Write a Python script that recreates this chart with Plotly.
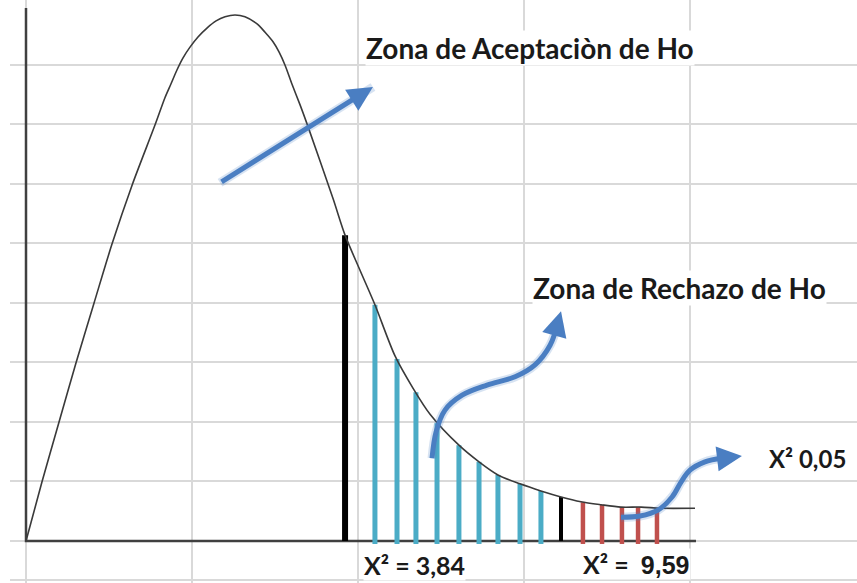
import plotly.graph_objects as go

# ---- data (grid units: 1 x-unit = one column, 1 y-unit = one row) ----
curve_x = [0.000, 0.096, 0.199, 0.301, 0.410, 0.518, 0.639, 0.777, 0.837, 0.873, 0.910, 0.946,
           0.988, 1.036, 1.090, 1.145, 1.199, 1.259, 1.319, 1.392, 1.440, 1.488, 1.524, 1.560,
           1.602, 1.651, 1.693, 1.849, 1.922, 2.012, 2.102, 2.223, 2.331,
           2.434, 2.608, 2.729, 2.843, 2.976, 3.102, 3.223, 3.343, 3.464, 3.584, 3.705, 3.825, 4.030]
curve_y = [0.00, 0.99, 2.00, 2.99, 4.00, 4.99, 5.98, 6.99, 7.45, 7.68, 7.92, 8.12,
           8.30, 8.47, 8.62, 8.74, 8.81, 8.84, 8.81, 8.69, 8.55, 8.39, 8.22, 8.00,
           7.68, 7.33, 7.01, 5.76, 5.14, 4.55, 3.97, 3.11, 2.57,
           2.13, 1.61, 1.33, 1.11, 0.96, 0.84, 0.74, 0.66, 0.61, 0.57, 0.57, 0.55, 0.55]

accept_hatch_x = [2.102, 2.235, 2.349, 2.476, 2.608, 2.729, 2.843, 2.976, 3.102]
accept_hatch_top = [3.97, 3.06, 2.50, 1.98, 1.61, 1.33, 1.11, 0.96, 0.84]
reject_hatch_x = [3.355, 3.470, 3.590, 3.687, 3.801]
reject_hatch_top = [0.65, 0.61, 0.57, 0.57, 0.55]
hatch_bottom = -0.05

crit_1_x, crit_1_top = 1.922, 5.14
crit_2_x, crit_2_top = 3.223, 0.74

x_axis_end = 4.036
y_axis_top = 8.958

arrow1_from = (1.169, 6.02)
arrow1_to = (2.090, 7.63)
arrow2_x = [2.446, 2.470, 2.524, 2.627, 2.777, 2.946, 3.066, 3.157, 3.205]
arrow2_y = [1.39, 1.83, 2.20, 2.45, 2.62, 2.76, 2.96, 3.29, 3.68]
arrow2_tip = (3.223, 3.86)
arrow3_x = [3.584, 3.699, 3.807, 3.892, 3.946, 4.000, 4.090, 4.193]
arrow3_y = [0.40, 0.42, 0.52, 0.74, 0.99, 1.19, 1.33, 1.39]
arrow3_tip = (4.313, 1.43)

x_grid = [0, 1, 2, 3, 4]
y_grid = [-0.655, 0, 1, 2, 3, 4, 5, 6, 7, 8]

CAL = "Lato, sans-serif"
labels = [
    ("Zona de Aceptaciòn de Ho", 2.042, 8.28, 28, CAL),
    ("Zona de Rechazo de Ho", 3.048, 4.25, 28, CAL),
    ("X² 0,05", 4.470, 1.38, 24, CAL),
    ("X² = 3,84", 2.030, -0.40, 25, CAL),
    ("X² =  <span style='font-family:Liberation Sans, Arial, sans-serif'>9,59</span>", 3.349, -0.39, 25, CAL),
]

TEAL = "#4BACC6"
RED = "#C0504D"
BLUE = "#4A7EC2"
DARK = "#3a3a3a"


def segs(xs, tops, bottom):
    X, Y = [], []
    for x, t in zip(xs, tops):
        X += [x, x, None]
        Y += [bottom, t, None]
    return X, Y


fig = go.Figure()

# axes lines
fig.add_trace(go.Scatter(x=[0, 0, x_axis_end], y=[y_axis_top, 0, 0], mode="lines",
                         line=dict(color="#404040", width=2.5), hoverinfo="skip"))

# hatch lines
hx, hy = segs(accept_hatch_x, accept_hatch_top, hatch_bottom)
fig.add_trace(go.Scatter(x=hx, y=hy, mode="lines", line=dict(color=TEAL, width=5), hoverinfo="skip"))
rx, ry = segs(reject_hatch_x, reject_hatch_top, hatch_bottom)
fig.add_trace(go.Scatter(x=rx, y=ry, mode="lines", line=dict(color=RED, width=4.5), hoverinfo="skip"))

# critical lines
fig.add_trace(go.Scatter(x=[crit_1_x, crit_1_x], y=[0, crit_1_top], mode="lines",
                         line=dict(color="black", width=6), hoverinfo="skip"))
fig.add_trace(go.Scatter(x=[crit_2_x, crit_2_x], y=[0, crit_2_top], mode="lines",
                         line=dict(color="black", width=4), hoverinfo="skip"))

# curve
fig.add_trace(go.Scatter(x=curve_x, y=curve_y, mode="lines",
                         line=dict(color=DARK, width=1.6, shape="spline", smoothing=0.8),
                         hoverinfo="skip"))

# curved arrows (glow + body)
for ax_, ay_ in [(arrow2_x, arrow2_y), (arrow3_x, arrow3_y)]:
    fig.add_trace(go.Scatter(x=ax_, y=ay_, mode="lines",
                             line=dict(color="rgba(74,126,194,0.22)", width=9, shape="spline"),
                             hoverinfo="skip"))
    fig.add_trace(go.Scatter(x=ax_, y=ay_, mode="lines",
                             line=dict(color=BLUE, width=5, shape="spline"),
                             hoverinfo="skip"))

fig.add_trace(go.Scatter(x=[arrow1_from[0], arrow1_to[0]], y=[arrow1_from[1], arrow1_to[1]],
                         mode="lines", line=dict(color="rgba(74,126,194,0.22)", width=9),
                         hoverinfo="skip"))

annotations = []
# arrow heads
for tip, tail in [(arrow1_to, arrow1_from),
                  (arrow2_tip, (arrow2_x[-1], arrow2_y[-1])),
                  (arrow3_tip, (arrow3_x[-1], arrow3_y[-1]))]:
    annotations.append(dict(x=tip[0], y=tip[1], ax=tail[0], ay=tail[1],
                            xref="x", yref="y", axref="x", ayref="y", text="", showarrow=True,
                            arrowhead=2, arrowsize=1.0, arrowwidth=5, arrowcolor=BLUE, standoff=0))

for txt, x, y, size, fam in labels:
    annotations.append(dict(x=x, y=y, xref="x", yref="y", text="<b>%s</b>" % txt, showarrow=False,
                            xanchor="left", yanchor="middle", bgcolor="white", borderpad=0,
                            font=dict(family=fam, size=size, color="#1a1a1a")))

fig.update_layout(
    width=857, height=583,
    margin=dict(l=10, r=0, t=0, b=0),
    paper_bgcolor="white", plot_bgcolor="white",
    showlegend=False,
    annotations=annotations,
    xaxis=dict(range=[-0.0964, 5.006], tickvals=x_grid, showticklabels=False, ticks="",
               showgrid=True, gridcolor="#d9d9d9", gridwidth=1.5, zeroline=False, showline=False,
               fixedrange=True),
    yaxis=dict(range=[-0.706, 9.092], tickvals=y_grid, showticklabels=False, ticks="",
               showgrid=True, gridcolor="#d9d9d9", gridwidth=1.5, zeroline=False, showline=False,
               fixedrange=True),
)

fig.write_html("out.html", config={"displayModeBar": False},
               post_script="document.body.style.margin='0';document.body.style.overflow='hidden';")
